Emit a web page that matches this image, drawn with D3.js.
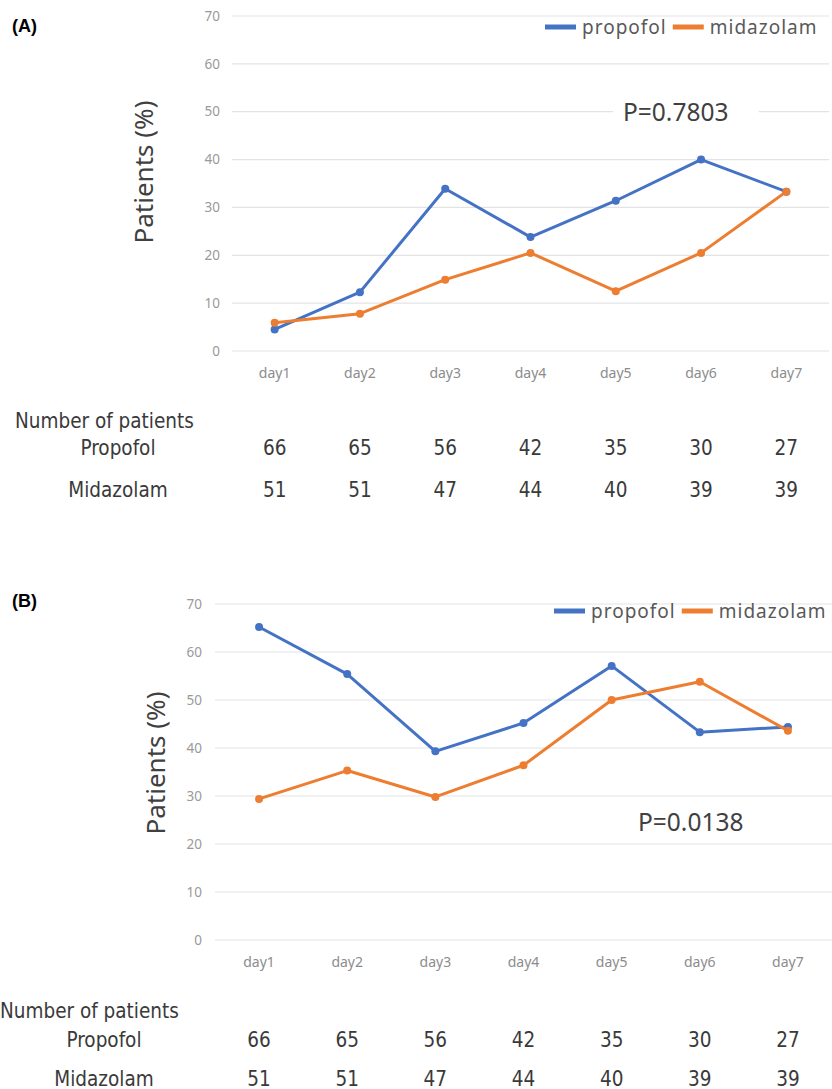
<!DOCTYPE html>
<html>
<head>
<meta charset="utf-8">
<script src="https://d3js.org/d3.v7.min.js"></script>
<style>
  body { margin: 0; background: #fff; }
  svg { display: block; font-family: "Noto Sans", "DejaVu Sans", sans-serif; }
  .grid line { stroke: #e3e3e3; stroke-width: 1.2; }
  .tick-lbl { fill: #9a9a9a; font-size: 13.5px; }
  .day-lbl { fill: #8c8c8c; font-size: 14px; }
  .ytitle { fill: #404040; font-size: 26px; }
  .legend { fill: #595959; font-size: 19px; letter-spacing: 1px; }
  .pval { fill: #404040; font-size: 24.5px; }
  .tbl { fill: #3a3a3a; font-size: 20.5px; font-family: "DejaVu Sans Condensed", "DejaVu Sans", sans-serif; font-stretch: condensed; }
  .panel-lbl { fill: #000; font-size: 18px; font-weight: bold; font-family: "Liberation Sans", Arial, sans-serif; }
</style>
</head>
<body>
<svg id="chart" width="832" height="1089"></svg>
<script>
// data
const days = ["day1", "day2", "day3", "day4", "day5", "day6", "day7"];
const yTicks = [0, 10, 20, 30, 40, 50, 60, 70];
const propofolA = [4.5, 12.3, 33.9, 23.8, 31.4, 40.0, 33.3];
const midazolamA = [5.9, 7.8, 14.9, 20.5, 12.5, 20.5, 33.3];
const propofolB = [65.2, 55.4, 39.3, 45.2, 57.1, 43.3, 44.4];
const midazolamB = [29.4, 35.3, 29.8, 36.4, 50.0, 53.8, 43.6];
const nPropofol = [66, 65, 56, 42, 35, 30, 27];
const nMidazolam = [51, 51, 47, 44, 40, 39, 39];
const seriesNames = ["propofol", "midazolam"];
const colors = { propofol: "#4472C4", midazolam: "#ED7D31" };

const svg = d3.select("svg#chart");

// layout of the two panels
const panels = [
  { label: "(A)", labelY: 32, x0: 232, x1: 829, yTop: 16, yBot: 351, tickX: 220, dayY: 378,
    titleX: 153, titleY: 172, legX: 545, legY: 27, pText: "P=0.7803", pX: 623, pY: 121,
    rowsX: 15, rowsY: [428, 455, 497], rowLblX: 118,
    series: { propofol: propofolA, midazolam: midazolamA } },
  { label: "(B)", labelY: 607, x0: 215, x1: 832, yTop: 604, yBot: 940, tickX: 202, dayY: 967,
    titleX: 165, titleY: 763, legX: 554, legY: 611, pText: "P=0.0138", pX: 638, pY: 831,
    rowsX: 0, rowsY: [1018, 1047, 1086], rowLblX: 104,
    series: { propofol: propofolB, midazolam: midazolamB } }
];

panels.forEach(p => {
  const g = svg.append("g");
  const x = d3.scalePoint().domain(days).range([p.x0, p.x1]).padding(0.5);
  const y = d3.scaleLinear().domain([0, 70]).range([p.yBot, p.yTop]);

  g.append("text").attr("class", "panel-lbl").attr("x", 12).attr("y", p.labelY).text(p.label);

  // gridlines
  const grid = g.append("g").attr("class", "grid");
  grid.selectAll("line").data(yTicks).join("line")
    .attr("x1", p.x0).attr("x2", p.x1)
    .attr("y1", d => y(d)).attr("y2", d => y(d));

  // y tick labels
  g.selectAll("text.tick-lbl").data(yTicks).join("text")
    .attr("class", "tick-lbl")
    .attr("x", p.tickX).attr("y", d => y(d)).attr("dy", "0.35em")
    .attr("text-anchor", "end").text(d => d);

  // day labels
  g.selectAll("text.day-lbl").data(days).join("text")
    .attr("class", "day-lbl")
    .attr("x", d => x(d)).attr("y", p.dayY)
    .attr("text-anchor", "middle").text(d => d);

  // y title
  g.append("text").attr("class", "ytitle")
    .attr("transform", `translate(${p.titleX},${p.titleY}) rotate(-90)`)
    .attr("text-anchor", "middle").text("Patients (%)");

  // p value with white box behind
  const pt = g.append("text").attr("class", "pval")
    .attr("x", p.pX).attr("y", p.pY).text(p.pText);
  const bb = pt.node().getBBox();
  g.insert("rect", "text.pval").attr("x", bb.x - 10).attr("y", bb.y).attr("width", bb.width + 40)
    .attr("height", bb.height).attr("fill", "#fff");

  // lines
  const line = d3.line().x((d, i) => x(days[i])).y(d => y(d));
  seriesNames.forEach(name => {
    const vals = p.series[name];
    g.append("path").datum(vals)
      .attr("fill", "none").attr("stroke", colors[name])
      .attr("stroke-width", 3).attr("stroke-linejoin", "round")
      .attr("d", line);
    g.selectAll("circle." + name).data(vals).join("circle")
      .attr("class", name)
      .attr("cx", (d, i) => x(days[i])).attr("cy", d => y(d))
      .attr("r", 4).attr("fill", colors[name]);
  });

  // legend
  let lx = p.legX;
  seriesNames.forEach(name => {
    g.append("line").attr("x1", lx).attr("x2", lx + 31)
      .attr("y1", p.legY).attr("y2", p.legY)
      .attr("stroke", colors[name]).attr("stroke-width", 5);
    const t = g.append("text").attr("class", "legend")
      .attr("x", lx + 37).attr("y", p.legY + 7).text(name);
    lx += 37 + t.node().getComputedTextLength() + 6;
  });

  // table of patient numbers
  g.append("text").attr("class", "tbl").attr("x", p.rowsX).attr("y", p.rowsY[0]).text("Number of patients");
  const rows = [["Propofol", nPropofol], ["Midazolam", nMidazolam]];
  rows.forEach((r, ri) => {
    g.append("text").attr("class", "tbl").attr("x", p.rowLblX).attr("y", p.rowsY[ri + 1])
      .attr("text-anchor", "middle").text(r[0]);
    g.selectAll("text.n" + ri).data(r[1]).join("text")
      .attr("class", "tbl n" + ri)
      .attr("x", (d, i) => x(days[i])).attr("y", p.rowsY[ri + 1])
      .attr("text-anchor", "middle").text(d => d);
  });
});
</script>
</body>
</html>
